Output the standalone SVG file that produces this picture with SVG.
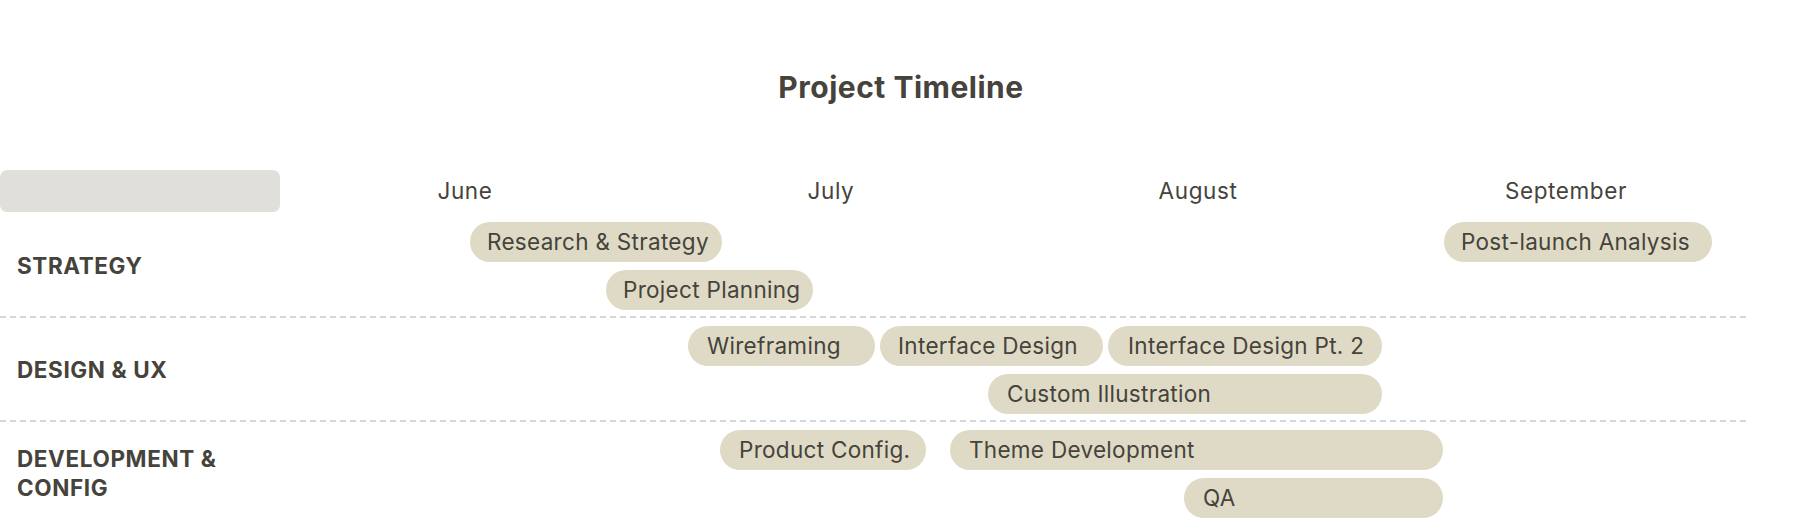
<svg xmlns="http://www.w3.org/2000/svg" width="1800" height="520" viewBox="0 0 1800 520">
  <style>
    text { font-family: Inter, "Liberation Sans", sans-serif; fill: #45433b; }
    .title { font-size: 30px; font-weight: 700; text-anchor: middle; letter-spacing: 0.5px; }
    .month { font-size: 22.5px; text-anchor: middle; letter-spacing: 0.6px; }
    .lane { font-size: 22.5px; font-weight: 700; letter-spacing: 0.6px; }
    .bar rect { fill: #dfdac5; }
    .bar text { font-size: 22.5px; letter-spacing: 0.3px; }
    .sep { stroke: #c9c9c9; stroke-width: 1.5; stroke-dasharray: 6 4; }
  </style>
  <rect width="1800" height="520" fill="#ffffff"/>
  <text class="title" x="901" y="98">Project Timeline</text>

  <g id="header">
    <rect x="0" y="170" width="280" height="42" rx="7" fill="#e0dfda"/>
    <text class="month" x="465" y="199">June</text>
    <text class="month" x="831" y="199">July</text>
    <text class="month" x="1198" y="199">August</text>
    <text class="month" x="1566" y="199">September</text>
  </g>

  <g id="lanes">
    <text class="lane" x="17" y="274">STRATEGY</text>
    <text class="lane" x="17" y="378">DESIGN &amp; UX</text>
    <text class="lane" x="17" y="467">DEVELOPMENT &amp;</text>
    <text class="lane" x="17" y="496">CONFIG</text>
  </g>

  <g id="separators">
    <line class="sep" x1="0" y1="317" x2="1748" y2="317"/>
    <line class="sep" x1="0" y1="421" x2="1748" y2="421"/>
  </g>

  <g id="task-research" class="bar"><rect x="470" y="222" width="252" height="40" rx="20"/><text x="487" y="250">Research &amp; Strategy</text></g>
  <g id="task-planning" class="bar"><rect x="606" y="270" width="207" height="40" rx="20"/><text x="623" y="298">Project Planning</text></g>
  <g id="task-postlaunch" class="bar"><rect x="1444" y="222" width="268" height="40" rx="20"/><text x="1461" y="250">Post-launch Analysis</text></g>

  <g id="task-wireframing" class="bar"><rect x="688" y="326" width="187" height="40" rx="20"/><text x="707" y="354">Wireframing</text></g>
  <g id="task-interface" class="bar"><rect x="880" y="326" width="223" height="40" rx="20"/><text x="898" y="354">Interface Design</text></g>
  <g id="task-interface2" class="bar"><rect x="1108" y="326" width="274" height="40" rx="20"/><text x="1128" y="354">Interface Design Pt. 2</text></g>
  <g id="task-illustration" class="bar"><rect x="988" y="374" width="394" height="40" rx="20"/><text x="1007" y="402">Custom Illustration</text></g>

  <g id="task-productconfig" class="bar"><rect x="720" y="430" width="206" height="40" rx="20"/><text x="739" y="458">Product Config.</text></g>
  <g id="task-theme" class="bar"><rect x="950" y="430" width="493" height="40" rx="20"/><text x="969" y="458">Theme Development</text></g>
  <g id="task-qa" class="bar"><rect x="1184" y="478" width="259" height="40" rx="20"/><text x="1203" y="506">QA</text></g>
</svg>
